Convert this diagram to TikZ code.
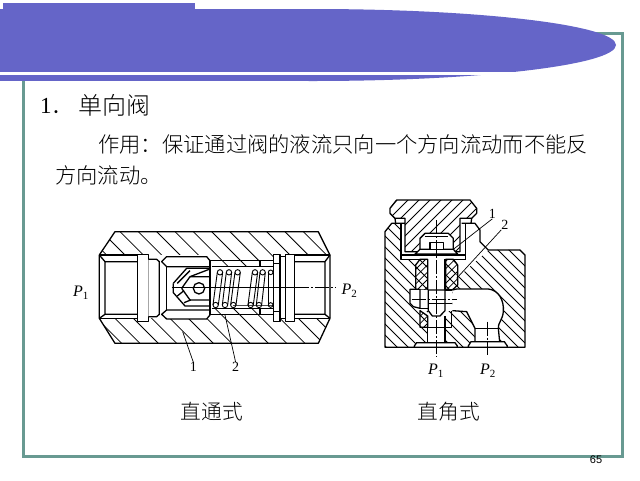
\documentclass[tikz,border=0pt]{standalone}
\usepackage{fontspec}
\setmainfont{Liberation Serif}
\newfontfamily\cjk{Noto Sans CJK SC}[UprightFont=* Light]
\newfontfamily\numsans{Liberation Sans}
\definecolor{bandblue}{RGB}{101,101,200}
\definecolor{frameteal}{RGB}{104,154,146}
\newcommand{\hatchD}{\foreach \k in {-1000,-945,...,1000}{\draw[hl] (\k,-100)--++(800,800);}}
\newcommand{\hatchR}{\foreach \k in {-1000,-967,...,1000}{\draw[hl] (\k,-100)--++(800,800);}}
\newcommand{\hatchU}{\foreach \k in {-200,-167,...,1500}{\draw[hl] (\k,-100)--++(-800,800);}}
\newcommand{\hatchF}{\foreach \k in {-200,-178,...,1500}{\draw[hl] (\k,-100)--++(-800,800);}}
\tikzset{
 hl/.style={line width=0.8pt,black},
 ol/.style={line width=1.3pt,black,line join=round},
 wf/.style={ol,fill=white},
 cl/.style={line width=0.7pt,black,dash pattern=on 14pt off 2pt on 2pt off 2pt},
 lead/.style={line width=0.7pt,black},
 body text/.style={font=\cjk\fontsize{21.3}{21.3}\selectfont,anchor=west,inner sep=0pt},
 caption text/.style={font=\cjk\fontsize{20.7}{21}\selectfont,inner sep=0pt},
 lab/.style={font=\fontsize{14}{14}\selectfont,inner sep=0pt},
 plab/.style={font=\itshape\fontsize{16}{16}\selectfont,inner sep=0pt},
}
\newcommand{\Psub}[1]{P\raisebox{-3pt}{\fontsize{11}{11}\selectfont\upshape #1}}
\begin{document}
\begin{tikzpicture}[x=1pt,y=-1pt]
\useasboundingbox (0,0) rectangle (640,480);
\fill[white] (0,0) rectangle (640,480);
% frame
\draw[frameteal,line width=3pt] (23,33.5) rectangle (622.5,456.5);
% band
\fill[bandblue] (3,3) rectangle (195,10);
\fill[bandblue] (0,9) rectangle (313,81);
\fill[bandblue] (313,45) ellipse [x radius=303,y radius=36];
\fill[white] (0,72.4) rectangle (600,75.3);
% texts
\node[body text,font=\cjk\fontsize{24}{24}\selectfont] (t1) at (78,105) {单向阀};
\node[anchor=west,inner sep=0pt,font=\fontsize{23}{23}\selectfont] (t0) at (40,105.5) {1{\cjk．}};
\node[body text] (t2) at (98,144) {作用：保证通过阀的液流只向一个方向流动而不能反};
\node[body text] (t3) at (55,175) {方向流动。};
\node[caption text] (c1) at (212,412) {直通式};
\node[caption text] (c2) at (449,412) {直角式};
\node[font=\numsans\fontsize{11}{11}\selectfont,inner sep=0pt] (pg) at (596,459.5) {65};
% ---------- left valve
\begin{scope}[shift={(60,220)},x=0.3333pt,y=-0.3333pt]
 \begin{scope}
  \clip (165,35)--(775,35)--(810,105)--(810,295)--(775,370)--(165,370)--(118,295)--(118,105)--cycle;
  \hatchD
 \end{scope}
 \fill[white] (118,105) rectangle (450,295);
 \fill[white] (640,105) rectangle (810,295);
 \fill[white] (450,140) rectangle (640,265);
 \fill[white] (600,122) rectangle (640,283);
 \draw[ol] (165,35)--(775,35)--(810,105)--(810,295)--(775,370)--(165,370)--(118,295)--(118,105)--cycle;
 \draw[ol] (118,105)--(232,105) (703,105)--(810,105) (118,295)--(232,295) (703,295)--(810,295);
 \draw[ol] (118,105)--(135,125)--(232,125) (135,125)--(135,283)--(232,283) (118,295)--(135,283);
 \draw[ol] (810,105)--(795,125)--(703,125) (795,125)--(795,283)--(703,283) (810,295)--(795,283);
 \draw[wf] (232,103) rectangle (265,305);
 \draw[wf] (265,118)--(290,118)--(298,125)--(298,283)--(290,290)--(265,290);
 % upper and lower pads
 \draw[ol] (320,140)--(320,270);
 \draw[wf] (305,125)--(320,110)--(440,110)--(450,122)--(450,140)--(320,140)--cycle;
 \draw[wf] (305,283)--(320,270)--(450,270)--(450,285)--(440,297)--(320,297)--cycle;
 \draw[ol] (450,122)--(600,122) (450,283)--(600,283);
 \draw[ol] (455,140)--(640,140) (455,265)--(640,265) (600,122)--(600,140) (600,265)--(600,283);
 \draw[ol] (600,122)--(640,122) (600,283)--(640,283);
 \draw[ol] (450,122)--(450,285);
 \draw[line width=0.8pt,black!70] (520,255)--(640,255);
 % poppet
 \draw[ol] (340,190)--(380,145)--(450,145) (352,190)--(390,152);
 \draw[ol] (365,205)--(390,170)--(450,147);
 \draw[ol] (390,170)--(450,170) (365,205)--(390,240)--(450,240);
 \draw[ol] (340,190)--(340,218)--(375,258)--(450,258);
 \draw[ol] (352,228)--(372,212) (372,248)--(392,240);
 \draw[ol] (417,205) circle (17);
 % spring
 \foreach \xa/\xb in {480/467,507/495,533/520,585/572,608/597}{
  \draw[line width=0.9pt] (\xa-8,157)--(\xb-8,255) (\xa+8,157)--(\xb+8,255);
  \draw[line width=0.9pt] (\xa,157) circle (8) (\xb,255) circle (8);
 }
 \draw[line width=0.9pt] (632,157) circle (7) (632,255) circle (7);
 \draw[line width=0.9pt] (625,157)--(625,255) (639,157)--(639,255);
 % right fitting
 \draw[wf] (640,103) rectangle (660,130);
 \draw[wf] (640,130) rectangle (660,275);
 \draw[wf] (640,275) rectangle (660,305);
 \draw[wf] (660,110) rectangle (677,295);
 \draw[wf] (677,103) rectangle (703,305);
 % centre line
 \coordinate (cla) at (335,203);
 \coordinate (clb) at (705,203);
 \coordinate (clc) at (828,203);
 \draw[line width=1pt] (cla)--(clb);
 \draw[cl] (clb)--(clc);
 \coordinate (l1a) at (368,335);
 \coordinate (l2a) at (495,285);
 \node[lab] (n1) at (400,441) {1};
 \node[lab] (n2) at (527,441) {2};
 \draw[lead] (l1a)--(n1.north);
 \draw[lead] (l2a)--(n2.north);
 \node[plab] (p1) at (62,218) {\Psub{1}};
 \node[plab] (p2) at (868,212) {\Psub{2}};
\end{scope}
% ---------- right valve
\begin{scope}[shift={(375,190)},x=0.3333pt,y=-0.3333pt]
 \begin{scope}
  \clip (30,125)--(50,100)--(300,100)--(315,120)--(315,155)--(340,180)--(435,180)--(450,195)--(450,472)--(30,472)--cycle;
  \hatchR
 \end{scope}
 \fill[white] (78,85) rectangle (272,208);
 \fill[white] (270,100)--(300,100)--(315,120)--(315,155)--(340,180)--(245,265)--(245,208)--(272,208)--cycle;
 \draw[ol] (90,100)--(50,100)--(30,125)--(30,472)--(450,472)--(450,195)--(435,180)--(340,180)--(315,155)--(315,120)--(300,100)--(260,100);
 % cap
 \begin{scope}
  \clip (45,55)--(65,30)--(285,30)--(305,55)--(305,70)--(290,85)--(255,85)--(255,185)--(90,185)--(90,85)--(60,85)--(45,70)--cycle;
  \hatchU
 \end{scope}
 \draw[ol] (45,55)--(65,30)--(285,30)--(305,55)--(305,70)--(290,85)--(255,85)--(255,185)--(90,185)--(90,85)--(60,85)--(45,70)--cycle;
 \draw[ol] (60,85)--(62,100) (290,85)--(288,100);
 \draw[ol] (78,100)--(78,195) (272,100)--(272,208) (78,195)--(272,195) (78,195)--(78,208)--(272,208);
 % poppet
 \draw[wf] (135,188)--(135,145)--(150,130)--(220,130)--(235,145)--(235,188)--cycle;
 \draw[wf] (120,192)--(135,178)--(235,178)--(248,192)--cycle;
 \draw[wf] (165,158) rectangle (205,178);
 \draw[ol] (150,140)--(220,140);
 % column
 \fill[white] (158,208) rectangle (210,455);
 \draw[ol] (158,208)--(158,300) (210,208)--(210,300);
 % side sleeves
 \begin{scope}\clip (122,225)--(135,208)--(158,208)--(158,300)--(122,300)--cycle;\hatchF\end{scope}
 \draw[ol] (122,225)--(135,208)--(158,208)--(158,300)--(122,300)--cycle;
 \begin{scope}\clip (212,208)--(235,208)--(248,225)--(248,285)--(232,300)--(212,300)--cycle;\hatchF\end{scope}
 \draw[ol] (212,208)--(235,208)--(248,225)--(248,285)--(232,300)--(212,300)--cycle;
 % chamber P2
 \fill[white] (232,300)--(245,297)--(340,297) .. controls (370,300) and (388,330) .. (385,365) .. controls (383,390) and (368,400) .. (370,415)--(374,455)--(300,455)--(300,415)--(275,365)--(232,362)--cycle;
 \draw[ol] (232,300)--(245,297)--(340,297) .. controls (370,300) and (388,330) .. (385,365) .. controls (383,390) and (368,400) .. (370,415)--(374,455);
 \draw[ol] (232,362)--(275,365)--(300,415)--(300,455);
 \draw[ol] (300,415)--(370,415);
 % nut zone
 \fill[white] (135,300) rectangle (232,362);
 \draw[wf] (160,300)--(210,300)--(210,362)--(195,378)--(172,378)--(160,362)--cycle;
 \draw[ol] (160,340)--(210,340) (135,355)--(160,355) (210,340)--(232,340) (210,300)--(232,300);
 \draw[wf] (105,298)--(135,298)--(135,355)--(115,350)--(105,340)--cycle;
 \begin{scope}\clip (135,362)--(158,378)--(158,412)--(135,412)--cycle;\hatchF\end{scope}
 \draw[ol] (135,362)--(158,378)--(158,412)--(135,412)--cycle;
 \draw[ol] (158,378)--(158,458) (210,378)--(210,458) (158,412)--(210,412);
 \draw[ol] (230,362)--(230,412)--(210,412);
 % seats
 \draw[wf] (118,468)--(125,458)--(240,458)--(247,468)--(247,472)--(118,472)--cycle;
 \draw[wf] (280,468)--(288,455)--(388,455)--(397,468)--(397,472)--(280,472)--cycle;
 \draw[ol] (30,472)--(450,472);
 % centre lines
 \coordinate (va) at (183,90);
 \coordinate (vb) at (183,500);
 \coordinate (wa) at (338,395);
 \coordinate (wb) at (338,495);
 \coordinate (ha) at (110,328);
 \coordinate (hb) at (245,328);
 \draw[cl] (va)--(vb);
 \draw[cl] (wa)--(wb);
 \draw[cl] (ha)--(hb);
 \node[lab] (r1) at (352,72) {1};
 \node[lab] (r2) at (390,105) {2};
 \coordinate (r1a) at (235,178);
 \coordinate (r2a) at (245,265);
 \draw[lead] (r1.south)--(r1a);
 \draw[lead] (r2.south west)--(r2a);
 \node[plab] (rp1) at (182,543) {\Psub{1}};
 \node[plab] (rp2) at (338,543) {\Psub{2}};
\end{scope}
\end{tikzpicture}
\end{document}
